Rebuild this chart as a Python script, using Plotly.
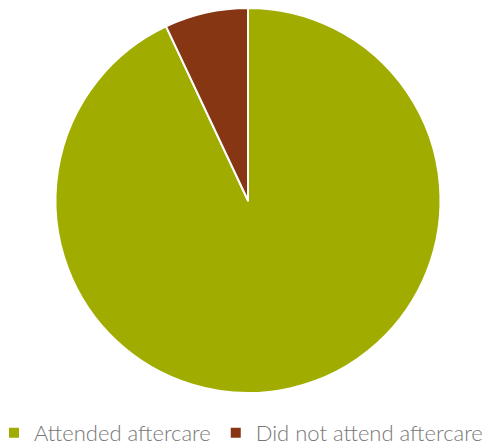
import plotly.graph_objects as go

labels = ["Attended aftercare", "Did not attend aftercare"]
values = [93, 7]
colors = ["#A0AC00", "#863612"]

W, H = 497, 444

fig = go.Figure(go.Pie(
    labels=labels,
    values=values,
    sort=False,
    direction="clockwise",
    rotation=0,
    textinfo="none",
    hoverinfo="label+percent",
    marker=dict(colors=colors, line=dict(color="white", width=2)),
    domain=dict(x=[55 / W, 441 / W], y=[1 - 393 / H, 1 - 8 / H]),
))

fig.update_layout(
    width=W, height=H,
    margin=dict(l=0, r=0, t=0, b=0, autoexpand=False),
    paper_bgcolor="white",
    plot_bgcolor="white",
    showlegend=True,
    legend=dict(
        orientation="h",
        xref="paper", yref="paper",
        x=-6 / W, y=-10 / H, xanchor="left", yanchor="bottom",
        font=dict(family="Lato", size=22, color="#777777", weight=300),
        itemwidth=30,
        bgcolor="rgba(0,0,0,0)",
        tracegroupgap=0,
    ),
)

fig.write_html("out.html", config={"displayModeBar": False},
               post_script="document.body.style.margin='0';")
